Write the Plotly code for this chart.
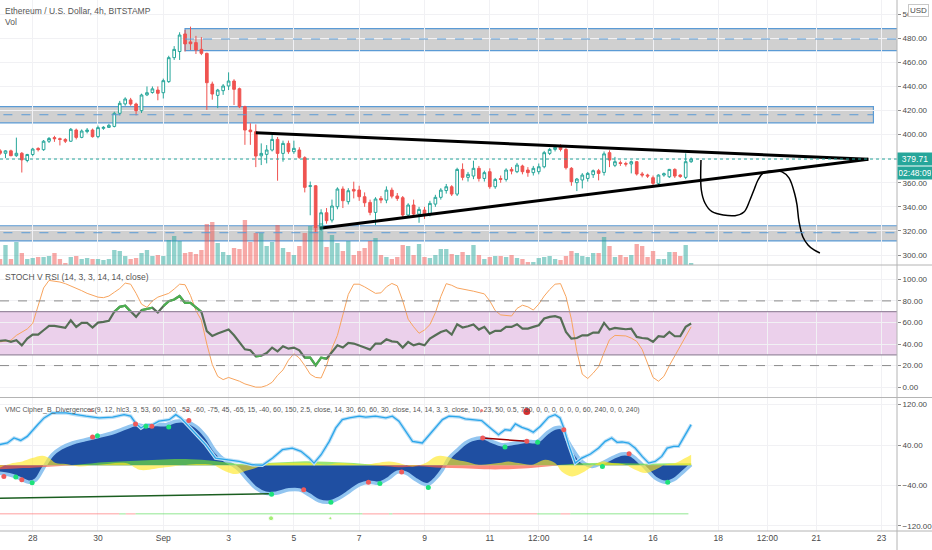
import datetime as dt
import plotly.graph_objects as go
from plotly.subplots import make_subplots

# ETH/USD 4h bars, Bitstamp, starting 2020-08-27 00:00
start = dt.datetime(2020, 8, 27, 0, 0)

opens = [386.5, 384.5, 386.5, 382.5, 384.5, 378.5, 383.5, 388.5, 387.5, 394.5,
         397.5, 396.6, 396, 394.5, 403.8, 397.7, 402.5, 403.8, 398.3, 405.2,
         406, 406.8, 417.7, 425.5, 428.8, 425.4, 419.9, 433, 435, 437,
         434.8, 444, 463.9, 469, 483.6, 477, 476.4, 470.8, 467.5, 442,
         432.6, 436.5, 440.4, 444.5, 438.1, 423.2, 403.8, 402.4, 382.4, 383.6,
         387.2, 396, 384.4, 392.7, 385.8, 387.2, 380.8, 357, 357.5, 323.5,
         335.1, 329, 340.1, 354.8, 344.3, 354.5, 354, 348.4, 343.7, 335.4,
         347, 345.6, 353.9, 349, 347.6, 333.2, 341.5, 334, 337.3, 334,
         342.3, 347.9, 353.5, 356.7, 350.6, 371.1, 364.5, 365.6, 372, 363.6,
         369.2, 356.7, 363.5, 362.8, 371.1, 369.2, 373.9, 370.6, 368.4, 369.2,
         373.3, 384.4, 387.7, 390.5, 387.7, 372, 360.1, 362.3, 363.6, 366.7,
         370, 368.6, 385, 374.5, 376.7, 376, 375.6, 377.5, 367.3, 366.4,
         364.2, 359.5, 366.4, 365, 371.1, 366.4, 364.5, 377.5]
highs = [388, 387, 387.5, 397.5, 385.5, 384, 389, 389.5, 395.5, 398,
         399, 397.5, 397, 405.5, 405, 404.3, 405.5, 405, 407.5, 407,
         409, 419, 428, 431, 430.5, 426.5, 434, 440, 440, 440,
         446.5, 465.5, 473.5, 485, 487, 489.7, 482, 481, 468, 444,
         438, 442, 451.7, 446, 439, 424, 409.4, 408.5, 392.7, 391.3,
         401, 398, 395, 395, 395, 389.5, 382, 361, 358, 338,
         339, 346, 356.2, 357, 355.5, 360.9, 357.5, 352, 346, 348,
         349, 357, 356, 351.5, 349, 343, 346, 340, 340, 345,
         350, 355.5, 359, 358, 372.5, 376.1, 369, 378.3, 374, 370,
         372, 364, 366, 372, 373, 376.5, 375, 373, 374, 376,
         386.5, 389, 391.5, 392, 389, 373, 364, 368, 369, 371,
         371.5, 386, 387, 381.5, 378.5, 377.5, 378.5, 378, 369, 367.5,
         366, 367, 368.5, 371.5, 372, 367, 384.4, 381]
lows = [383, 380.5, 382, 381.5, 368.5, 377, 382, 386, 386.5, 393,
        394, 391, 393, 394, 396, 397, 401, 397.5, 397, 404,
        405.5, 406, 416, 424, 424, 416, 418, 432, 434, 428.5,
        430, 443, 462, 462, 469, 470.3, 467, 466, 420.5, 429,
        422, 433, 437, 424.6, 422, 391.5, 391.5, 373, 374.7, 376.1,
        386, 361.7, 377.5, 384, 384, 380, 352, 333, 319, 320,
        326, 327, 338, 339, 342, 347, 345, 340, 333, 325,
        343, 343, 347, 345, 331, 331, 332, 326.8, 330, 332,
        340, 346, 351, 349, 349, 362, 361, 363, 361, 361,
        355, 355, 360, 361, 367, 368, 367, 365, 366, 367,
        372, 383, 386, 386, 371, 357.5, 353.1, 355.3, 361, 364,
        362, 366, 373, 373, 374, 373.5, 367.8, 366, 364.5, 364,
        356.7, 358, 365, 364, 364, 364, 363, 376.5]
closes = [384.5, 386.5, 382.5, 384.5, 379, 383.5, 388, 387.5, 394.5, 396.8,
          396.6, 396, 394.5, 404.4, 397.7, 403, 403.8, 398.3, 405.8, 406,
          407.7, 417.7, 426, 429.6, 425.4, 419.9, 432.9, 434.8, 438, 434.3,
          444.8, 463.9, 470.8, 482.7, 475.3, 475.5, 470.3, 467.5, 443.1, 433.7,
          437, 440.4, 444.5, 437.6, 423.2, 403.8, 402.4, 382.2, 384.4, 387.2,
          396, 384.4, 392.7, 385.8, 388.6, 381.1, 356.2, 357.5, 322.9, 335.1,
          328.5, 340.7, 354.8, 345.1, 353.4, 353.1, 348.4, 343.4, 335.4, 346.5,
          345.6, 353.9, 348.9, 347, 333.2, 341.5, 334, 337.9, 333.2, 342.9,
          347.9, 353.9, 356.7, 350.6, 371.1, 364.5, 367, 372, 363.6, 368.4,
          356.7, 362.8, 362.8, 370.6, 369.7, 374.7, 369.2, 368.4, 372, 373.3,
          385, 387.7, 389.4, 387.7, 372.5, 360.9, 363.1, 366.4, 367.8, 370,
          367.8, 384, 378.9, 377.5, 376, 375.5, 377.5, 367.3, 366.4, 365.6,
          359.5, 366.4, 367.5, 371.1, 365.6, 365.2, 377.5, 379.71]
volumes = [6, 20, 6, 23, 12, 6, 7, 8, 8, 9,
           12, 6, 2, 8, 9, 6, 7, 6, 6, 5,
           6, 15, 14, 9, 6, 7, 12, 15, 9, 10,
           9, 25, 29, 24, 12, 13, 11, 15, 41, 43,
           22, 13, 10, 17, 16, 45, 23, 32, 32, 19,
           23, 40, 17, 13, 10, 19, 32, 39, 38, 42,
           18, 30, 22, 14, 24, 10, 14, 17, 24, 27,
           10, 8, 6, 8, 20, 19, 10, 21, 8, 7,
           10, 16, 16, 11, 10, 13, 10, 20, 10, 6,
           8, 9, 9, 8, 10, 7, 6, 3, 3, 7,
           8, 9, 6, 5, 9, 14, 12, 9, 8, 12,
           12, 28, 19, 8, 10, 8, 10, 21, 19, 8,
           14, 6, 6, 13, 13, 9, 20, 2]

# stoch v rsi pane
rsi = [42.9, 43.5, 42, 43.5, 38.8, 45, 48.7, 48.7, 52.8, 56.8,
       56.8, 56, 55, 62.1, 55.9, 59.6, 59.6, 55.3, 59.9, 60.5,
       61.5, 69.9, 74.5, 75.5, 69.9, 65.2, 71.4, 72.3, 73.6, 69.2,
       75.1, 79.8, 81.3, 84.5, 78.2, 78.2, 73.9, 69.9, 51.9, 47.5,
       49.7, 51.2, 53.4, 48.1, 41, 35.1, 34.2, 28.6, 29.2, 31.6,
       36.7, 33.2, 37.9, 35.7, 36.7, 34.2, 27.3, 27.3, 20.2, 27.3,
       26.4, 32.6, 38.8, 36.7, 41, 40.4, 38.8, 36.7, 34.8, 40.4,
       40.4, 44.4, 42.5, 41.9, 36.7, 41.9, 38.8, 40.4, 38.8, 45,
       48.1, 51.2, 52.8, 48.7, 58.4, 55.3, 56.5, 58.1, 53.4, 55.9,
       49.7, 52.2, 52.2, 55.9, 55.9, 58.4, 54.3, 54.3, 55.9, 57.4,
       63.7, 65.2, 65.8, 64.3, 51.2, 45, 45.6, 48.1, 48.1, 50.6,
       50.6, 59.6, 53.4, 55, 54.3, 53.7, 54.3, 46.6, 45.6, 45,
       42, 47.2, 46.6, 51.2, 47.2, 47.2, 55.9, 59]
stoch_k = [42, 42.5, 43.5, 48, 51, 54, 59, 76, 92, 99,
           98.5, 97.5, 96, 94, 92, 89.5, 87, 85, 83.5, 83,
           84.5, 88, 91.5, 96.5, 95.5, 87, 77, 74, 80, 83.5,
           85, 87, 91, 95.5, 95, 85, 71, 62, 40, 21,
           10, 7, 9, 7.5, 5.5, 3, 1.5, 0, 0, 1.5,
           4.5, 11, 16, 25, 31, 27, 20, 12, 9, 8.5,
           20, 36, 48, 67, 86, 95.5, 95.5, 93, 90, 87,
           87.5, 93, 96.2, 94, 80, 63, 56, 50, 53, 58,
           69, 84, 96, 94.5, 92, 90.7, 90, 89, 88, 86.5,
           80, 71, 67, 66.5, 66, 73, 76, 74.5, 71.5, 77,
           84.5, 90.5, 95.5, 96, 84, 63, 33, 12, 8, 13,
           19, 32, 44, 48, 48, 47.5, 45.5, 42.5, 35, 22,
           9, 5.5, 10, 20, 29, 37, 46.5, 56]

# vmc cipher b pane (bar index, value)
srsi_bar = [0.8, 2.35, 3.57, 4.8, 6.0, 6.9, 7.9, 9.1, 10.6, 13.1, 14.9, 16.8, 19.2, 21.7, 23.8,
            25.0, 25.9, 26.9, 27.8, 29.0, 30.2, 32.1, 33.3, 34.2, 35.4, 37.0, 38.8, 40.6, 42.5, 44.9,
            47.4, 49.2, 51.1, 52.9, 54.7, 56.3, 57.8, 58.7, 60.0, 61.5, 62.7, 63.9, 65.2, 67.0, 68.2,
            70.0, 71.9, 73.1, 74.3, 75.3, 76.8, 78.6, 79.9, 81.1, 82.3, 83.5, 85.4, 86.5, 88.3, 89.5,
            91.1, 92.6, 93.8, 94.8, 95.7, 96.9, 98.1, 99.0, 100.3, 101.8, 103.0, 103.9, 104.6, 105.5, 106.7,
            107.9, 109.5, 111.0, 112.2, 113.4, 114.4, 115.3, 116.5, 117.7, 119.0, 120.2, 121.4, 122.6, 123.6, 124.8,
            125.7, 126.6, 128]
srsi_val = [40.7, 44, 54, 49, 57, 67, 80, 93.6, 103.5, 103.5, 100, 97, 93.6, 95, 100,
            97, 83.6, 73.7, 80, 80, 87, 90, 100, 93.6, 80, 60.5, 40.7, 14.2, 10.9, 7.6,
            1, 0, 14.2, 30.8, 34, 27.5, 14.2, 4.3, 20.8, 47.3, 73.7, 90.3, 93.6, 97, 95,
            97, 93.6, 97, 87, 70.4, 47.3, 44, 60.5, 73.7, 90.3, 97, 95.5, 91.6, 90.3, 88.3,
            73.7, 60.5, 70.4, 69, 81.7, 75, 70.4, 65.1, 77, 95, 100, 93.6, 73.7, 40.7, 4.3,
            14.2, 22.2, 34, 47.3, 54, 45.3, 46, 44, 34, 17.5, 4.3, 7.6, 17.5, 34, 37.4,
            37.4, 54, 80.3]
wave_bar = [0.8, 2.7, 4.5, 6.3, 7.6, 8.8, 9.7, 10.6, 12.2, 14.3, 16.7, 19.2, 21.6, 24.1, 25.9,
            27.8, 29.6, 31.5, 33.3, 35.1, 37.0, 38.8, 40.6, 42.2, 43.7, 44.9, 46.5, 48.0, 49.8, 51.7,
            54.1, 56.0, 57.8, 59.6, 61.5, 63.3, 65.2, 67.0, 68.8, 70.7, 72.5, 74.0, 75.6, 77.4, 79.5,
            81.1, 82.3, 83.5, 85.1, 86.5, 87.7, 89.9, 91.4, 93.2, 95.7, 97.8, 99.7, 101.5, 103.0, 104.3,
            105.2, 106.7, 107.9, 109.8, 111.6, 113.4, 115.3, 116.8, 118.4, 119.9, 121.4, 123.2, 124.8, 126.3, 128]
wave_val = [-15.5, -18.8, -25.4, -33.4, -28.7, -8.9, 7.6, 20.8, 34, 44, 50.6, 57.2, 63.8, 73.7, 80.3,
            77, 80.3, 80.3, 87, 87, 77, 57.2, 27.5, 10.9, 1, -8.9, -28.7, -45.3, -55.2, -55.2,
            -48.6, -48.6, -58.5, -70.4, -73, -65.1, -51.9, -38.6, -33.4, -35.3, -25.4, -13.5, -15.5, -28.7, -38.6,
            -25.4, -8.9, 14.2, 30.8, 44, 50.6, 53.9, 47.3, 40.7, 44, 47.3, 47.3, 63.8, 73.7, 73.7,
            50.6, 24.2, 7.6, -2.3, 4.3, 14.2, 22.2, 20.8, 7.6, -8.9, -25.4, -33.4, -28.7, -15.5, 1]
vwap_bar = [0.8, 3.3, 5.1, 6.9, 8.8, 10.0, 11.2, 13.1, 15.5, 19.2, 24.1, 26.6, 28.4, 30.2, 32.7,
            37.6, 40.0, 42.5, 44.3, 46.2, 48.0, 49.8, 52.9, 58.4, 60.9, 63.3, 68.2, 70.1, 72.5, 74.3,
            76.8, 79.2, 81.1, 82.9, 84.8, 86.5, 89.0, 92.6, 94.4, 96.3, 98.7, 101.2, 103.0, 104.2, 106.1,
            107.9, 109.8, 111.6, 113.4, 115.9, 117.7, 119.6, 121.4, 123.2, 125.1, 126.9, 128]
vwap_val = [-5, 4.3, 7.6, 14.2, 18.9, 14.2, 4.3, 2.3, -2.3, 1, 4.3, -8.9, -8.9, -5.6, -2.3,
            2.3, 1, -12.2, -17.5, -10.9, -5.6, 2.3, 4.3, 4.3, 1, 4.3, 1, 4.3, 7.6, 4.3,
            -2.3, 4.3, 17.5, 17.5, 11, 7.6, 1, 4.3, 7.6, 4.3, 1, 11, 4.3, -12.2, -22.1,
            -15.5, -2.3, 7.6, 4.3, 1, -8.9, -15.5, -8.9, 1, 4.3, 14.2, 20.8]
mfi_bar = [0.8, 4.5, 7, 10, 13, 17, 20, 24, 28, 32, 36, 40, 43, 46, 49, 53, 57, 61, 65,
           69, 72, 75, 78, 82, 86, 90, 94, 98, 100, 102, 104, 108, 112, 116, 120, 124, 128]
mfi_val = [-8, -6, -5, -3, -1, 3, 6, 8, 10, 12, 12, 9, 5, 2, 4, 6, 8, 7, 5,
           2, -2, -4, -2, -5, -6, -8, -8, -6, -4, -2, 1, 4, 5, 4, 3, 4, 4]
red_dot_bar = [1.7, 5.0, 18.0, 25.9, 28.9, 35.7, 56.8, 68.7, 74.8, 89.7, 97.8, 104.6, 116.6]
red_dot_val = [-22, -28.7, 55.9, 81.7, 77, 88.3, -48.6, -33.4, -13.5, 53.9, 47.3, 70.4, 22.8]
green_dot_bar = [3.9, 6.9, 18.9, 27.8, 32.0, 50.9, 61.8, 70.8, 79.7, 93.8, 99.8, 111.7, 123.7]
green_dot_val = [-23.4, -34.7, 58.5, 77, 75.7, -57.2, -73, -36, -44, 36, 45.3, -2.3, -33.4]
buy_bar = [50.8, 61.7]
buy_val = [-104.7, -104.7]
div_mark_bar = [17.7, 35.4, 89.5]
div_mark_val = [108, 108, 108]
bear_div_bar = [97.8]
bear_div_val = [106]
trend_edges = [0.8, 22.9, 24.1, 25.9, 67.6, 72.5, 73.1, 99.7, 104, 105.8, 127.5]
trend_bull = [0, 1, 0, 1, 0, 1, 0, 1, 0, 1]
trend_level = -96
bull_div_bar = [0.5, 50.4]
bull_div_val = [-65.3, -56.5]
bear_line_bar = [89.7, 97.8]
bear_line_val = [53.9, 47.3]

# drawings on the price pane
zones = [(dt.datetime(2020, 9, 1, 16), 469.8, 488.1, 479.4),
         (dt.datetime(2020, 8, 26), 409.7, 423.2, 416.5),
         (dt.datetime(2020, 8, 26), 311.7, 324.3, 318.5)]
zone_ends = ["2020-09-24", "2020-09-22 18:00", "2020-09-24"]
tri_upper_t = ["2020-09-03 20:00", "2020-09-22 14:15"]
tri_upper_p = [401.6, 379.5]
tri_lower_t = ["2020-09-05 19:00", "2020-09-22 14:15"]
tri_lower_p = [322.2, 379.5]
sketch_t = ["2020-09-17 11:15", "2020-09-17 11:30", "2020-09-17 14:10", "2020-09-17 19:20",
            "2020-09-18 12:15", "2020-09-18 18:50", "2020-09-18 23:15", "2020-09-19 02:10",
            "2020-09-19 05:10", "2020-09-19 08:50", "2020-09-19 15:25", "2020-09-19 22:50",
            "2020-09-20 03:55", "2020-09-20 08:20", "2020-09-20 09:50", "2020-09-20 11:20",
            "2020-09-20 14:10", "2020-09-20 17:55", "2020-09-20 22:20", "2020-09-21 02:40"]
sketch_p = [378.9, 354.0, 343.2, 336.0, 332.7, 335.7, 345.7, 354.0, 362.3, 368.1,
            369.8, 369.0, 364.0, 349.9, 341.6, 327.5, 315.0, 308.4, 304.2, 301.7]
last_price = 379.71
countdown = "02:48:09"

date_ticks = ["2020-08-28", "2020-08-30", "2020-09-01", "2020-09-03", "2020-09-05", "2020-09-07",
              "2020-09-09", "2020-09-11", "2020-09-12 12:00", "2020-09-14", "2020-09-16",
              "2020-09-18", "2020-09-19 12:00", "2020-09-21", "2020-09-23"]
date_labels = ["28", "30", "Sep", "3", "5", "7", "9", "11", "12:00", "14", "16", "18", "12:00", "21", "23"]


def bar_time(n):
    return start + dt.timedelta(hours=4 * (n - 1))


times = [bar_time(i + 1) for i in range(len(closes))]
FONT = "Liberation Sans, Arial"
UP, DOWN = "#26a69a", "#ef5350"
ZONE_EDGE = "#5b9bd5"
TXT = "#4a4a4a"

fig = make_subplots(rows=3, cols=1, shared_xaxes=True, vertical_spacing=0,
                    row_heights=[265, 132.5, 133.5],
                    specs=[[{"secondary_y": True}], [{}], [{}]])

# volume
vol_colors = ["rgba(38,166,154,0.5)" if c >= o else "rgba(239,83,80,0.5)" for o, c in zip(opens, closes)]
fig.add_trace(go.Bar(x=times, y=volumes, marker_color=vol_colors, marker_line_width=0,
                     hoverinfo="skip"), row=1, col=1, secondary_y=True)

# candles
fig.add_trace(go.Candlestick(x=times, open=opens, high=highs, low=lows, close=closes,
                             increasing=dict(line=dict(color=UP, width=1), fillcolor="white"),
                             decreasing=dict(line=dict(color=DOWN, width=1), fillcolor=DOWN),
                             whiskerwidth=0), row=1, col=1)

fig.add_trace(go.Scatter(x=tri_upper_t, y=tri_upper_p, mode="lines",
                         line=dict(color="black", width=3)), row=1, col=1)
fig.add_trace(go.Scatter(x=tri_lower_t, y=tri_lower_p, mode="lines",
                         line=dict(color="black", width=3)), row=1, col=1)
fig.add_trace(go.Scatter(x=sketch_t, y=sketch_p, mode="lines", line_shape="spline",
                         line=dict(color="black", width=1.5)), row=1, col=1)

# stoch v rsi
fig.add_trace(go.Scatter(x=times, y=stoch_k, mode="lines", line=dict(color="#f7a45e", width=1)), row=2, col=1)
fig.add_trace(go.Scatter(x=times, y=rsi, mode="lines", line=dict(color="#566e56", width=2.2)), row=2, col=1)
rsi_ext = [v if (v >= 69.5 or v <= 30.5) else None for v in rsi]
fig.add_trace(go.Scatter(x=times, y=rsi_ext, mode="lines", line=dict(color="#4caf50", width=2.2)), row=2, col=1)
fig.add_hrect(y0=30, y1=70, fillcolor="rgba(153,21,153,0.2)", line_width=0, layer="below",
              row=2, col=1, exclude_empty_subplots=False)
for lvl in (30, 70):
    fig.add_hline(y=lvl, line=dict(color="#9a8aa0", width=1.2), row=2, col=1, exclude_empty_subplots=False)
for lvl in (20, 80):
    fig.add_hline(y=lvl, line=dict(color="#8a8a8a", width=1, dash="dash"), row=2, col=1,
                  exclude_empty_subplots=False)

# vmc cipher b
wave_t = [bar_time(n) for n in wave_bar]
fig.add_trace(go.Scatter(x=wave_t, y=wave_val, mode="lines", fill="tozeroy", line_shape="spline",
                         fillcolor="#1f4fa2", line=dict(color="#92c5f0", width=3.5)), row=3, col=1)
mfi_t = [bar_time(n) for n in mfi_bar]
fig.add_trace(go.Scatter(x=mfi_t, y=[max(v, 0) for v in mfi_val], mode="lines", fill="tozeroy",
                         line_shape="spline", line_width=0, fillcolor="rgba(110,220,60,0.7)"), row=3, col=1)
fig.add_trace(go.Scatter(x=mfi_t, y=[min(v, 0) for v in mfi_val], mode="lines", fill="tozeroy",
                         line_shape="spline", line_width=0, fillcolor="rgba(255,90,70,0.7)"), row=3, col=1)
vwap_t = [bar_time(n) for n in vwap_bar]
fig.add_trace(go.Scatter(x=vwap_t, y=vwap_val, mode="lines", fill="tozeroy", line_shape="spline",
                         line_width=0, fillcolor="rgba(255,232,40,0.65)"), row=3, col=1)
srsi_t = [bar_time(n) for n in srsi_bar]
fig.add_trace(go.Scatter(x=srsi_t, y=srsi_val, mode="lines",
                         line=dict(color="#bcdff6", width=3.5)), row=3, col=1)
fig.add_trace(go.Scatter(x=srsi_t, y=srsi_val, mode="lines",
                         line=dict(color="#2aa6ea", width=1.3)), row=3, col=1)
for i, bull in enumerate(trend_bull):
    fig.add_trace(go.Scatter(x=[bar_time(trend_edges[i]), bar_time(trend_edges[i + 1])],
                             y=[trend_level, trend_level], mode="lines",
                             line=dict(color="rgba(90,220,90,0.45)" if bull else "rgba(255,110,110,0.45)",
                                       width=1.5)), row=3, col=1)
fig.add_trace(go.Scatter(x=[bar_time(n) for n in bull_div_bar], y=bull_div_val, mode="lines",
                         line=dict(color="#1b5e20", width=1.5)), row=3, col=1)
fig.add_trace(go.Scatter(x=[bar_time(n) for n in bear_line_bar], y=bear_line_val, mode="lines",
                         line=dict(color="#a00000", width=1.5)), row=3, col=1)
fig.add_trace(go.Scatter(x=[bar_time(n) for n in red_dot_bar], y=red_dot_val, mode="markers",
                         marker=dict(color="#f05a5a", size=5)), row=3, col=1)
fig.add_trace(go.Scatter(x=[bar_time(n) for n in green_dot_bar], y=green_dot_val, mode="markers",
                         marker=dict(color="#1de27a", size=5)), row=3, col=1)
fig.add_trace(go.Scatter(x=[bar_time(n) for n in buy_bar], y=buy_val, mode="markers",
                         marker=dict(color="#7de83a", size=[5, 3])), row=3, col=1)
fig.add_trace(go.Scatter(x=[bar_time(n) for n in div_mark_bar], y=div_mark_val, mode="markers",
                         marker=dict(color="#f08080", size=3)), row=3, col=1)
fig.add_trace(go.Scatter(x=[bar_time(n) for n in bear_div_bar], y=bear_div_val, mode="markers",
                         marker=dict(color="#d32f2f", size=7)), row=3, col=1)

# support / resistance zones
for (z0, lo, hi, mid), z1 in zip(zones, zone_ends):
    fig.add_shape(type="rect", x0=z0, x1=z1, y0=lo, y1=hi, fillcolor="rgba(150,150,150,0.45)",
                  line=dict(color=ZONE_EDGE, width=1.2), layer="below", row=1, col=1)
    fig.add_shape(type="line", x0=z0, x1=z1, y0=mid, y1=mid,
                  line=dict(color=ZONE_EDGE, width=1, dash="dash"), row=1, col=1)
fig.add_hline(y=last_price, line=dict(color=UP, width=1, dash="dot"), row=1, col=1)

# pane borders
for yy in (1 - 265 / 531, 1 - 397.5 / 531, 0):
    fig.add_shape(type="line", xref="paper", yref="paper", x0=0, x1=1.04, y0=yy, y1=yy,
                  line=dict(color="#b4b4b4", width=1))
fig.add_shape(type="line", xref="paper", yref="paper", x0=1, x1=1, y0=-0.04, y1=1,
              line=dict(color="#b4b4b4", width=1))

fig.update_layout(
    width=932, height=550, margin=dict(l=0, r=35, t=0, b=19, autoexpand=False),
    paper_bgcolor="white", plot_bgcolor="white", showlegend=False,
    font=dict(family=FONT, size=8, color=TXT),
    hovermode=False,
)
fig.update_xaxes(type="date", range=["2020-08-26 23:58", "2020-09-23 11:20"], domain=[0, 1],
                 tickvals=date_ticks, ticktext=date_labels, showgrid=True, gridcolor="#f1f1f4",
                 zeroline=False, showline=False, rangeslider_visible=False, ticks="",
                 automargin=False, tickfont=dict(size=8.5, color=TXT))
fig.update_xaxes(showticklabels=False, row=1, col=1)
fig.update_xaxes(showticklabels=False, row=2, col=1)
ax = dict(side="right", showgrid=True, gridcolor="#f1f1f4", zeroline=False, showline=False,
          ticks="outside", ticklen=3, tickcolor="#8a8a8a", tickformat=".2f", automargin=False,
          tickfont=dict(size=8, color=TXT))
fig.update_yaxes(range=[291.7, 511.8], tickvals=list(range(300, 501, 20)), row=1, col=1,
                 secondary_y=False, **ax)
fig.update_yaxes(range=[0, 265], visible=False, automargin=False, row=1, col=1, secondary_y=True)
fig.update_yaxes(range=[-9.6, 113.3], tickvals=[0, 20, 40, 60, 80, 100], row=2, col=1, **ax)
fig.update_yaxes(range=[-129.9, 133.9], tickvals=[-120, -40, 40, 120], row=3, col=1, **ax)


# texts
def note(text, y, size=8.5, x=0.004):
    fig.add_annotation(text=text, xref="paper", yref="paper", x=x, y=y, xanchor="left",
                       yanchor="middle", showarrow=False, borderpad=0,
                       font=dict(size=size, color="#555555"))


note("Ethereum / U.S. Dollar, 4h, BITSTAMP", 1 - 11 / 531)
note("Vol", 1 - 22 / 531)
note("STOCH V RSI (14, 3, 3, 14, 14, close)", 1 - 277 / 531)
note("VMC Cipher_B_Divergences(9, 12, hlc3, 3, 53, 60, 100, -53, -60, -75, 45, -65, 15, -40, 60, 150, "
     "2.5, close, 14, 30, 60, 60, 30, close, 14, 14, 3, 3, close, 10, 23, 50, 0.5, 720, 0, 0, 0, 0, 0, 0, "
     "60, 240, 0, 0, 240)", 1 - 410 / 531, size=7)

fig.add_annotation(text=f"{last_price:.2f}", xref="paper", yref="y", x=1.0005, y=last_price,
                   xanchor="left", yanchor="middle", showarrow=False, bgcolor=UP, width=32,
                   borderpad=1, font=dict(size=8.5, color="white"))
fig.add_annotation(text=countdown, xref="paper", yref="y", x=1.0005, y=last_price - 12,
                   xanchor="left", yanchor="middle", showarrow=False, bgcolor=UP, width=32,
                   borderpad=1, font=dict(size=8.5, color="white"))
fig.add_annotation(text="USD", xref="paper", yref="paper", x=1.012, y=1 - 11 / 531,
                   xanchor="left", yanchor="middle", showarrow=False, bgcolor="white",
                   bordercolor="#c8c8c8", borderwidth=1, borderpad=1, font=dict(size=8, color=TXT))

fig.write_html("out.html", config={"displayModeBar": False},
               post_script="document.body.style.margin = '0px';")
